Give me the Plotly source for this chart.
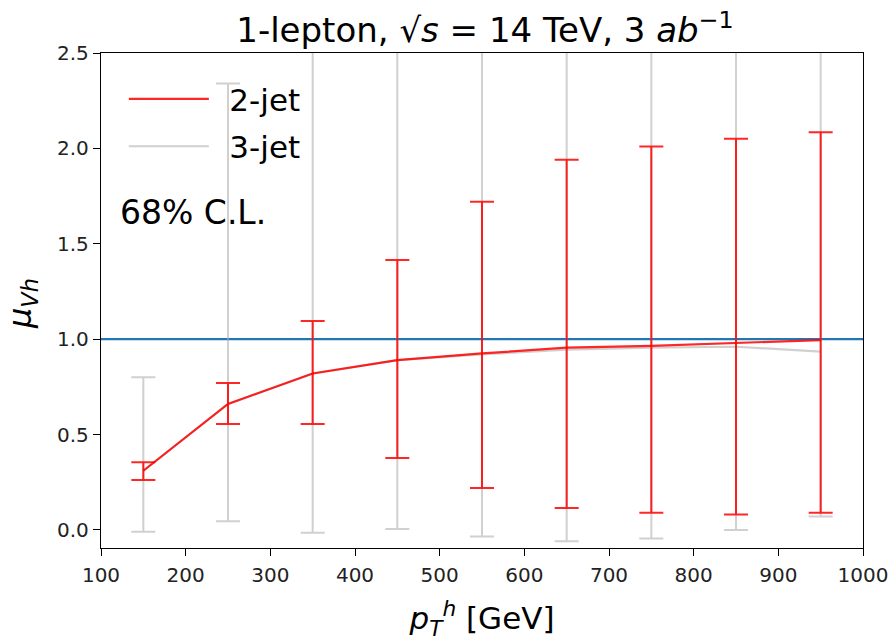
import plotly.graph_objects as go

pt = [150, 250, 350, 450, 550, 650, 750, 850, 950]

mu_2jet = [0.31, 0.66, 0.82, 0.89, 0.925, 0.955, 0.965, 0.98, 0.995]
up_2jet = [0.355, 0.77, 1.095, 1.415, 1.72, 1.94, 2.01, 2.05, 2.085]
lo_2jet = [0.262, 0.555, 0.555, 0.377, 0.22, 0.115, 0.09, 0.08, 0.09]

mu_3jet = [0.31, 0.66, 0.82, 0.89, 0.92, 0.945, 0.955, 0.96, 0.935]
up_3jet = [0.80, 2.34, 2.9, 3.1, 3.3, 3.5, 3.6, 3.7, 3.8]
lo_3jet = [-0.01, 0.045, -0.015, 0.005, -0.035, -0.06, -0.045, 0.0, 0.07]

ref_line = [1.0, 1.0]
ref_x = [100, 1000]

FONT = "DejaVu Sans"
RED = "rgba(255,0,0,0.85)"
GRAY = "rgba(170,170,170,0.55)"

fig = go.Figure()

fig.add_trace(go.Scatter(
    x=ref_x, y=ref_line, mode="lines",
    line=dict(color="#1f77b4", width=2.2), showlegend=False, hoverinfo="skip"))

fig.add_trace(go.Scatter(
    x=pt, y=mu_3jet, mode="lines", name="\u20023-jet", legendgroup="b", legendrank=2,
    line=dict(color=GRAY, width=2.2),
    error_y=dict(type="data", symmetric=False,
                 array=[u - m for u, m in zip(up_3jet, mu_3jet)],
                 arrayminus=[m - l for m, l in zip(mu_3jet, lo_3jet)],
                 color=GRAY, thickness=2, width=12)))

fig.add_trace(go.Scatter(
    x=pt, y=mu_2jet, mode="lines", name="\u20022-jet", legendgroup="a", legendrank=1,
    line=dict(color=RED, width=2.2),
    error_y=dict(type="data", symmetric=False,
                 array=[u - m for u, m in zip(up_2jet, mu_2jet)],
                 arrayminus=[m - l for m, l in zip(mu_2jet, lo_2jet)],
                 color=RED, thickness=2, width=12)))

fig.update_layout(
    width=896, height=641, autosize=False,
    margin=dict(l=101, r=33, t=53, b=93, autoexpand=False),
    paper_bgcolor="white", plot_bgcolor="white",
    font=dict(family=FONT, size=20, color="black"),
    title=dict(text="1-lepton, √<i>s</i> = 14 TeV, 3 <i>ab</i><sup>−1</sup>",
               x=485 / 896, xanchor="center", y=1 - 30 / 641, yanchor="middle",
               font=dict(family=FONT, size=34, color="black")),
    legend=dict(x=0.03, y=0.961, xanchor="left", yanchor="top",
                bgcolor="rgba(0,0,0,0)", traceorder="grouped",
                font=dict(family=FONT, size=31, color="black"),
                itemwidth=80, tracegroupgap=4),
    showlegend=True,
)

fig.update_xaxes(
    range=[100, 1000], tickvals=[100, 200, 300, 400, 500, 600, 700, 800, 900, 1000],
    ticks="outside", ticklen=7, tickwidth=1.3, tickcolor="black",
    showline=True, linecolor="black", linewidth=1.3, mirror=True,
    showgrid=False, zeroline=False, automargin=False, ticklabelstandoff=2,
    tickfont=dict(family=FONT, size=20, color="#222"),
    title=dict(text="<i>p</i><sub><i>T</i></sub><sup><i>h</i></sup> [GeV]",
               font=dict(family=FONT, size=31, color="black"), standoff=22))

fig.update_yaxes(
    range=[-0.095, 2.5], tickvals=[0.0, 0.5, 1.0, 1.5, 2.0, 2.5],
    ticktext=["0.0", "0.5", "1.0", "1.5", "2.0", "2.5"],
    ticks="outside", ticklen=7, tickwidth=1.3, tickcolor="black",
    showline=True, linecolor="black", linewidth=1.3, mirror=True,
    showgrid=False, zeroline=False, automargin=False,
    tickfont=dict(family=FONT, size=20, color="#222"))

fig.add_annotation(
    text="<i>μ</i><sub><i>Vh</i></sub>", xref="paper", yref="paper",
    x=(22 - 101) / 762, y=(548 - 304) / 495, xanchor="center", yanchor="middle",
    textangle=-90, showarrow=False,
    font=dict(family=FONT, size=32, color="black"))

fig.add_annotation(
    text="68% C.L.", xref="paper", yref="paper",
    x=0.022, y=0.677, xanchor="left", yanchor="middle", showarrow=False,
    font=dict(family=FONT, size=33, color="black"))

fig.write_html("out.html", config={"displayModeBar": False},
               post_script="document.body.style.margin='0px';")
